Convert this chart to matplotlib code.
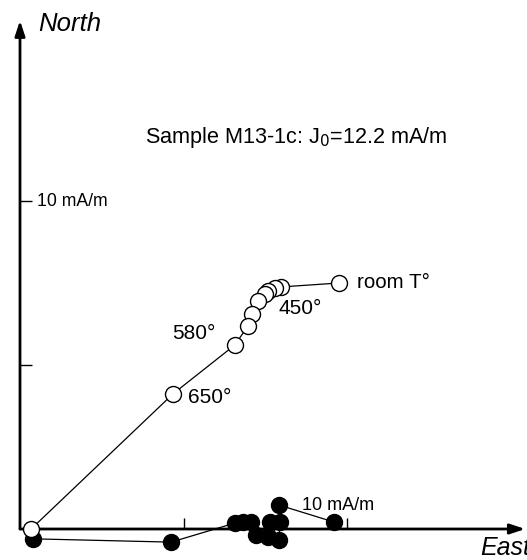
import matplotlib
matplotlib.use("Agg")
import matplotlib.pyplot as plt

plt.rcParams['font.family'] = ['Liberation Sans', 'DejaVu Sans']

# Open circles (vertical projection): East vs Up, mA/m
open_x = [9.76, 7.98, 7.80, 7.58, 7.49, 7.28, 7.09, 6.97, 6.57, 4.68, 0.34]
open_y = [7.50, 7.38, 7.35, 7.26, 7.16, 6.95, 6.55, 6.19, 5.61, 4.12, 0.00]

# Filled circles (horizontal projection): East vs North, mA/m
fill_x = [9.61, 7.92, 7.95, 7.92, 7.65, 7.58, 7.22, 7.06, 6.82, 6.57, 4.62, 0.40]
fill_y = [0.21, 0.73, 0.21, -0.34, 0.21, -0.24, -0.18, 0.21, 0.21, 0.18, -0.40, -0.30]

step_labels = ["room T°", "450°", "580°", "650°"]
tick_vals = [5, 10]

fig = plt.figure(figsize=(5.27, 5.6), dpi=100)
ax = fig.add_axes([0, 0, 1, 1])
ax.set_xlim(-20/32.7, (527-20)/32.7)
ax.set_ylim(-31/32.8, (560-31)/32.8)
ax.axis('off')

# axes with arrows
ax.annotate('', xy=(0, 15.5), xytext=(0, 0),
            arrowprops=dict(arrowstyle='-|>,head_length=0.9,head_width=0.3', lw=2, color='black',
                            shrinkA=0, shrinkB=0))
ax.annotate('', xy=(15.45, 0), xytext=(0, 0),
            arrowprops=dict(arrowstyle='-|>,head_length=0.9,head_width=0.3', lw=2, color='black',
                            shrinkA=0, shrinkB=0))

# ticks
for v in tick_vals:
    ax.plot([0, 0.36], [v, v], color='black', lw=1, solid_capstyle='butt')
    ax.plot([v, v], [0, 0.34], color='black', lw=1, solid_capstyle='butt')

# data
ax.plot(fill_x, fill_y, '-', color='black', lw=0.9,
        marker='o', ms=11.5, mfc='black', mec='black', zorder=3)
ax.plot(open_x, open_y, '-', color='black', lw=0.9,
        marker='o', ms=11.5, mfc='white', mec='black', mew=1, zorder=4)

# texts
ax.text(0.55, 15.4, 'North', fontsize=18.5, style='italic', ha='left', va='center')
ax.text(15.6, -0.95, 'East', fontsize=18, style='italic', ha='right', va='bottom')
ax.text(0.52, 10.0, '10 mA/m', fontsize=12.7, ha='left', va='center')
ax.text(8.62, 0.73, '10 mA/m', fontsize=13, ha='left', va='center')
ax.text(3.82, 11.93, 'Sample M13-1c: J$_0$=12.2 mA/m', fontsize=15.6, ha='left', va='center')

ax.text(10.3, 7.50, step_labels[0], fontsize=14.8, ha='left', va='center')
ax.text(7.90, 6.72, step_labels[1], fontsize=15, ha='left', va='center')
ax.text(4.64, 5.97, step_labels[2], fontsize=15, ha='left', va='center')
ax.text(5.14, 4.0, step_labels[3], fontsize=15, ha='left', va='center')

fig.savefig('out.png', dpi=100)
